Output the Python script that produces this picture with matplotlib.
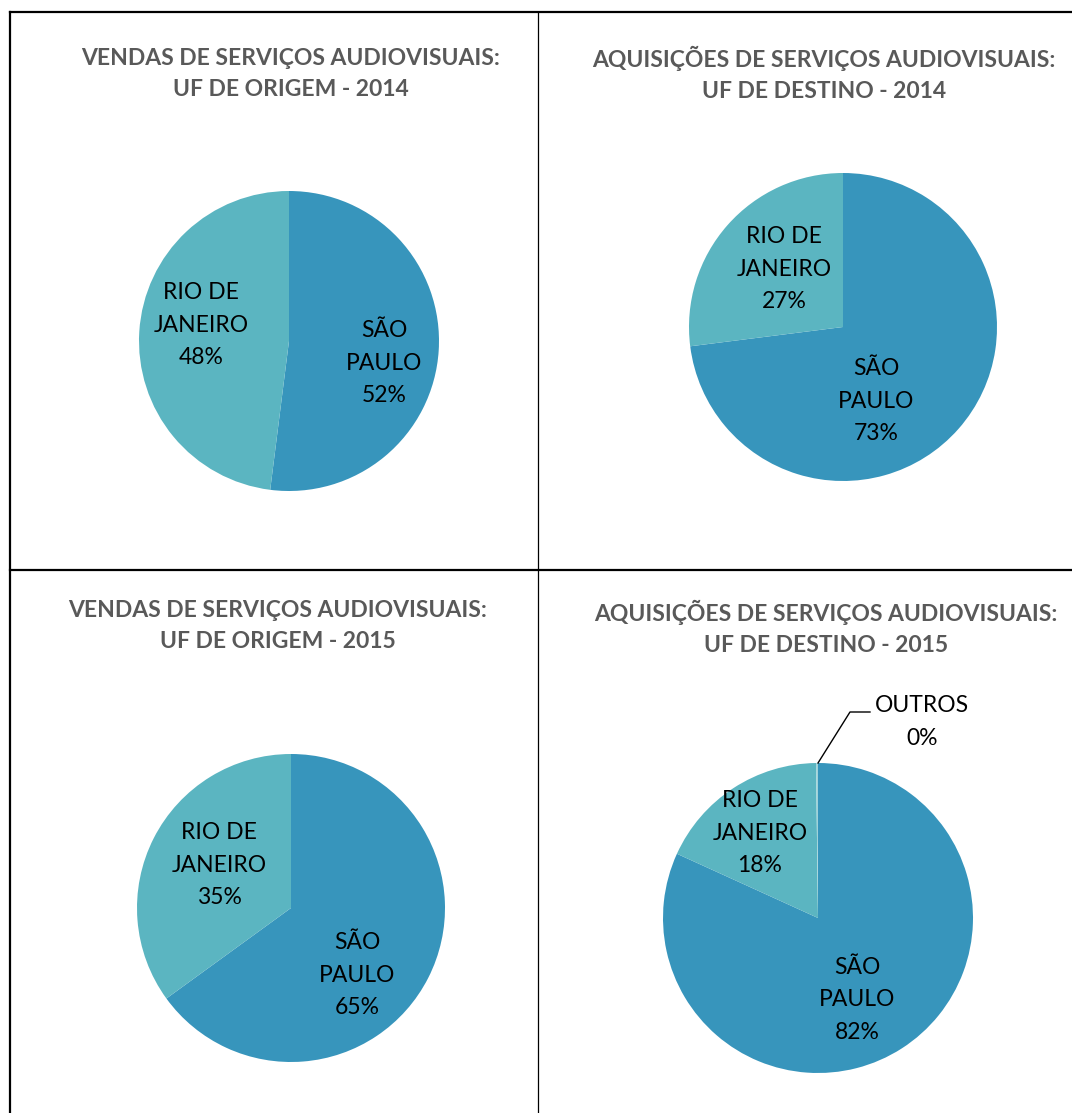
import matplotlib.pyplot as plt
import matplotlib

matplotlib.rcParams['font.family'] = ['Lato', 'DejaVu Sans']

W, H = 1072, 1113

titles = [
    'VENDAS DE SERVIÇOS AUDIOVISUAIS:\nUF DE ORIGEM - 2014',
    'AQUISIÇÕES DE SERVIÇOS AUDIOVISUAIS:\nUF DE DESTINO - 2014',
    'VENDAS DE SERVIÇOS AUDIOVISUAIS:\nUF DE ORIGEM - 2015',
    'AQUISIÇÕES DE SERVIÇOS AUDIOVISUAIS:\nUF DE DESTINO - 2015',
]
labels_2 = ['SÃO\nPAULO', 'RIO DE\nJANEIRO']
labels_3 = ['SÃO\nPAULO', 'RIO DE\nJANEIRO', 'OUTROS']
vendas_2014 = [52, 48]
aquis_2014 = [73, 27]
vendas_2015 = [65, 35]
aquis_2015 = [81.8, 18, 0.2]
pct_text = [['52%', '48%'], ['73%', '27%'], ['65%', '35%'], ['82%', '18%', '0%']]

sp_color = '#3795bc'
rj_color = '#5bb5c1'
title_color = '#595959'

# pixel layout: (pie centre x, centre y, radius, title x, title y)
layout = [
    (289, 341, 150, 291, 74),
    (843, 327, 154, 824, 74),
    (291, 908, 154, 278, 626),
    (818, 918, 155, 826, 628),
]
# label positions (pixel) for each slice
label_pos = [
    [(384, 363), (201, 325)],
    [(876, 401), (784, 269)],
    [(357, 975), (219, 865)],
    [(857, 1000), (760, 833), (922, 722)],
]

fig = plt.figure(figsize=(W / 100, H / 100), dpi=100)
ax = fig.add_axes([0, 0, 1, 1])

# table borders
ax.plot([10, W], [H - 12, H - 12], color='black', lw=1.6)
ax.plot([10, 10], [H - 12, 0], color='black', lw=1.6)
ax.plot([538, 538], [H - 12, 0], color='black', lw=0.9)
ax.plot([10, W], [H - 570, H - 570], color='black', lw=1.6)

datasets = [vendas_2014, aquis_2014, vendas_2015, aquis_2015]
for i, vals in enumerate(datasets):
    cx, cy, r, tx, ty = layout[i]
    cols = [sp_color, rj_color, rj_color][:len(vals)]
    wedges, _ = ax.pie(vals, colors=cols, startangle=90, counterclock=False,
                       center=(cx, H - cy), radius=r, frame=True,
                       wedgeprops=dict(linewidth=0))
    if len(vals) == 3:
        wedges[2].set_facecolor('#9fd3da')
    ax.text(tx, H - ty, titles[i], ha='center', va='center', fontsize=16.5,
            fontweight='bold', color=title_color, linespacing=1.55)
    labs = labels_2 if len(vals) == 2 else labels_3
    for j, (lx, ly) in enumerate(label_pos[i]):
        ax.text(lx, H - ly, labs[j] + '\n' + pct_text[i][j], ha='center', va='center',
                fontsize=16.5, color='black', linespacing=1.68)

# leader line for OUTROS
ax.plot([818, 850, 870], [H - 763, H - 712, H - 712], color='black', lw=1)

ax.set_xlim(0, W)
ax.set_ylim(0, H)
ax.set_aspect('auto')
ax.axis('off')

fig.savefig('out.png', dpi=100)
